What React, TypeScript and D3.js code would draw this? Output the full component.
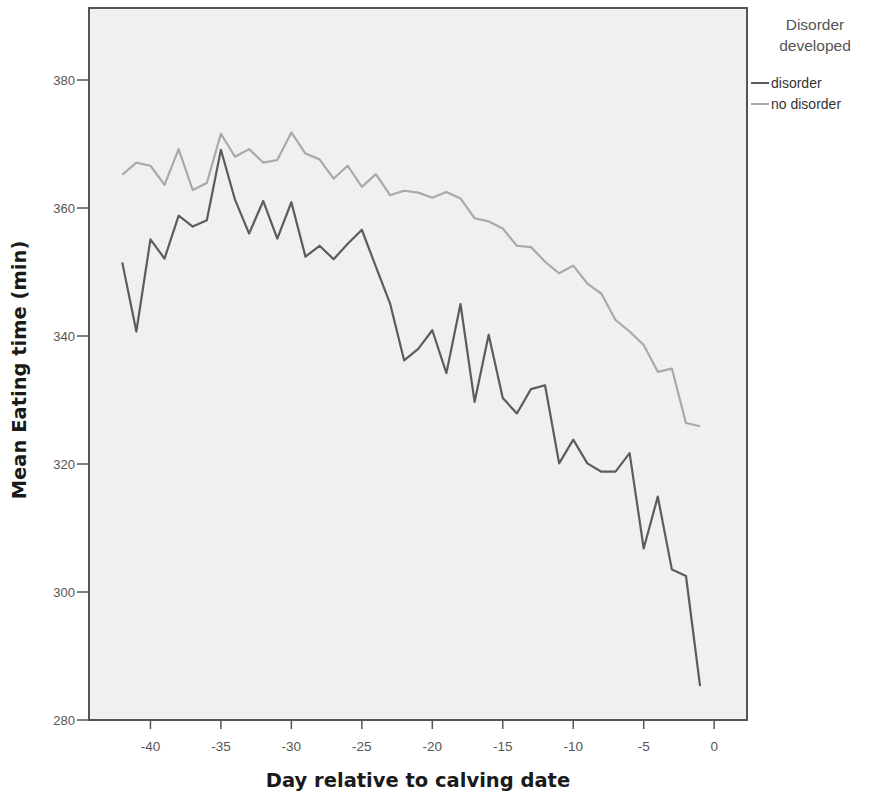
import React from "react";
import * as d3 from "d3";

const days = [-42,-41,-40,-39,-38,-37,-36,-35,-34,-33,-32,-31,-30,-29,-28,-27,-26,-25,-24,-23,-22,-21,-20,-19,-18,-17,-16,-15,-14,-13,-12,-11,-10,-9,-8,-7,-6,-5,-4,-3,-2,-1];
const disorder = [351.5,340.7,355.1,352.1,358.8,357.1,358.1,369.1,361.3,356.0,361.1,355.2,360.9,352.4,354.1,352.0,354.4,356.6,350.8,345.1,336.2,338.0,340.9,334.2,345.0,329.7,340.2,330.3,327.9,331.7,332.3,320.1,323.8,320.1,318.8,318.8,321.7,306.8,314.9,303.5,302.5,285.3];
const noDisorder = [365.2,367.1,366.6,363.6,369.2,362.8,363.9,371.6,368.0,369.2,367.1,367.5,371.8,368.5,367.6,364.6,366.6,363.3,365.3,362.0,362.7,362.4,361.6,362.5,361.5,358.4,357.9,356.8,354.1,353.9,351.6,349.8,351.0,348.2,346.6,342.5,340.7,338.6,334.4,334.9,326.4,325.9];
const xTicks = [-40,-35,-30,-25,-20,-15,-10,-5,0];
const yTicks = [280,300,320,340,360,380];
const seriesNames = ["disorder","no disorder"];
const seriesColors = ["#5c5c5c","#a9a9a9"];

const FONT = "Arial, 'Liberation Sans', sans-serif";
const TITLE_FONT = "'DejaVu Sans', Verdana, sans-serif";

export default function App() {
  const left = 89, right = 747, top = 8, bottom = 720;
  const x = d3.scaleLinear().domain([-44.36, 2.33]).range([left, right]);
  const y = d3.scaleLinear().domain([280, 391.25]).range([bottom, top]);
  const line = d3.line<number>().x((_, i) => x(days[i])).y(v => y(v));
  const series = [disorder, noDisorder];
  return (
    <svg width={880} height={797} style={{ position: "absolute", left: 0, top: 0, background: "#fff" }} fontFamily={FONT}>
      <rect x={left} y={top} width={right - left} height={bottom - top} fill="#f0f0f0" stroke="#555" strokeWidth={2} />
      {series.map((s, i) => (
        <path key={i} d={line(s) || ""} fill="none" stroke={seriesColors[i]} strokeWidth={2.2} strokeLinejoin="round" />
      ))}
      {yTicks.map(t => (
        <g key={t}>
          <line x1={left - 12} x2={left} y1={y(t)} y2={y(t)} stroke="#555" strokeWidth={1.5} />
          <text x={left - 14} y={y(t)} dy="0.35em" textAnchor="end" fontSize={13} fill="#555">{t}</text>
        </g>
      ))}
      {xTicks.map(t => (
        <g key={t}>
          <line x1={x(t)} x2={x(t)} y1={bottom} y2={bottom + 9} stroke="#555" strokeWidth={1.5} />
          <text x={x(t)} y={bottom + 26} dy="0.35em" textAnchor="middle" fontSize={13.5} fill="#555">{t}</text>
        </g>
      ))}
      <text x={418} y={780} dy="0.35em" textAnchor="middle" fontSize={19.5} fontWeight="bold" fill="#1a1a1a" fontFamily={TITLE_FONT}>Day relative to calving date</text>
      <text transform={`translate(19,370) rotate(-90)`} dy="0.35em" textAnchor="middle" fontSize={19.5} fontWeight="bold" fill="#1a1a1a" fontFamily={TITLE_FONT}>Mean Eating time (min)</text>
      <text x={815} y={25} dy="0.35em" textAnchor="middle" fontSize={15.5} fill="#555">Disorder</text>
      <text x={815} y={46} dy="0.35em" textAnchor="middle" fontSize={15.5} fill="#555">developed</text>
      {seriesNames.map((n, i) => (
        <g key={n}>
          <line x1={751} x2={769} y1={83 + i * 21} y2={83 + i * 21} stroke={seriesColors[i]} strokeWidth={2} />
          <text x={771} y={83 + i * 21} dy="0.35em" fontSize={14} fill="#333">{n}</text>
        </g>
      ))}
    </svg>
  );
}
